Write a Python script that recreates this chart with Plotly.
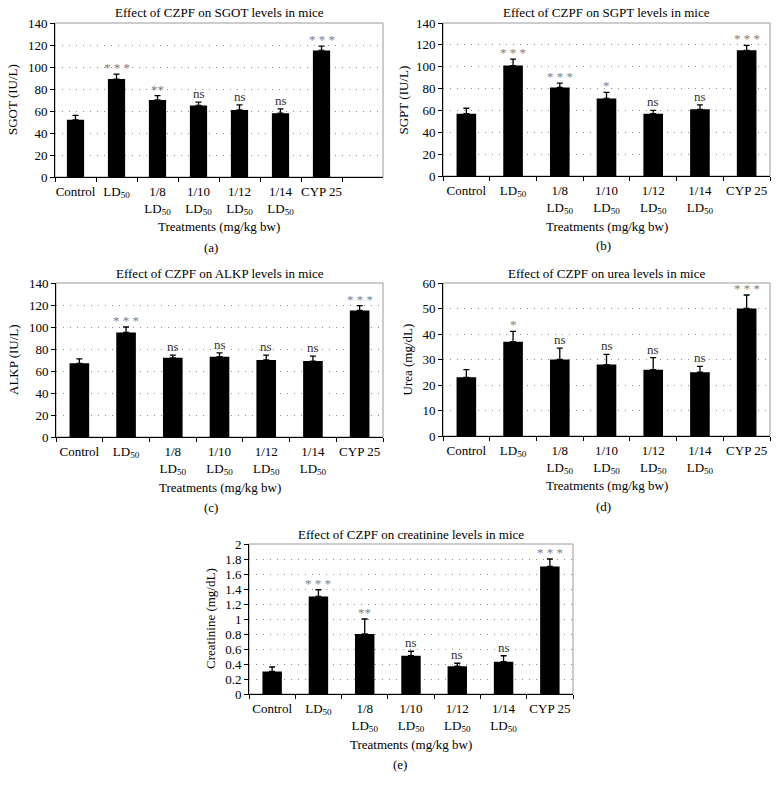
import plotly.graph_objects as go

# ---------------- data ----------------
categories = ["Control", "LD<sub>50</sub>", "1/8<br>LD<sub>50</sub>", "1/10<br>LD<sub>50</sub>",
              "1/12<br>LD<sub>50</sub>", "1/14<br>LD<sub>50</sub>", "CYP 25"]

sgot_vals = [52, 89, 70, 65, 61, 58, 115]
sgot_err = [4, 4.5, 4, 3, 4.5, 4, 4]
sgot_sig = ["", "* * *", "**", "ns", "ns", "ns", "* * *"]

sgpt_vals = [57, 101, 81, 71, 57, 61, 115]
sgpt_err = [5, 6, 4, 5.5, 3, 4, 4.5]
sgpt_sig = ["", "* * *", "* * *", "*", "ns", "ns", "* * *"]

alkp_vals = [67, 95, 72, 73, 70, 69, 115]
alkp_err = [4, 5, 2.5, 3.5, 4.5, 4.5, 4.5]
alkp_sig = ["", "* * *", "ns", "ns", "ns", "ns", "* * *"]

urea_vals = [23, 37, 30, 28, 26, 25, 50]
urea_err = [3, 4, 4.5, 4, 4.7, 2.3, 5.3]
urea_sig = ["", "*", "ns", "ns", "ns", "ns", "* * *"]

creat_vals = [0.3, 1.3, 0.8, 0.51, 0.37, 0.43, 1.7]
creat_err = [0.06, 0.09, 0.2, 0.06, 0.04, 0.08, 0.1]
creat_sig = ["", "* * *", "**", "ns", "ns", "ns", "* * *"]

titles = ["Effect of CZPF on SGOT levels in mice", "Effect of CZPF on SGPT levels in mice",
          "Effect of CZPF on ALKP levels in mice", "Effect of CZPF on urea levels in mice",
          "Effect of CZPF on creatinine levels in mice"]
ytitles = ["SGOT (IU/L)", "SGPT (IU/L)", "ALKP (IU/L)", "Urea (mg/dL)", "Creatinine (mg/dL)"]
xtitle = "Treatments (mg/kg bw)"
panel_labels = ["(a)", "(b)", "(c)", "(d)", "(e)"]

# ---------------- layout geometry (pixels) ----------------
W, H = 778, 794
FONT = "Liberation Serif"

def px_x(p):
    return p / W

def px_y(p):
    return 1 - p / H

panels = [
    dict(vals=sgot_vals, err=sgot_err, sig=sgot_sig, x=(55, 383), y=(23, 177), ymax=140, dtick=20, extra=True),
    dict(vals=sgpt_vals, err=sgpt_err, sig=sgpt_sig, x=(443, 770), y=(23, 176), ymax=140, dtick=20, extra=False),
    dict(vals=alkp_vals, err=alkp_err, sig=alkp_sig, x=(56, 383), y=(283, 437), ymax=140, dtick=20, extra=False),
    dict(vals=urea_vals, err=urea_err, sig=urea_sig, x=(443, 770), y=(283, 436), ymax=60, dtick=10, extra=False),
    dict(vals=creat_vals, err=creat_err, sig=creat_sig, x=(249, 573), y=(544, 694), ymax=2, dtick=0.2, extra=False),
]
ytitle_x = [13, 403, 13, 407, 210]
label_cx = [211, 603, 211, 603, 400]

fig = go.Figure()
annotations = []
shapes = []
layout = dict(
    width=W, height=H, margin=dict(l=0, r=0, t=0, b=0, pad=0, autoexpand=False),
    paper_bgcolor="white", plot_bgcolor="white", showlegend=False,
    font=dict(family=FONT, size=13, color="black"),
)

for i, p in enumerate(panels):
    n = i + 1
    xa = "x" if n == 1 else f"x{n}"
    ya = "y" if n == 1 else f"y{n}"
    xkey = "xaxis" if n == 1 else f"xaxis{n}"
    ykey = "yaxis" if n == 1 else f"yaxis{n}"

    fig.add_trace(go.Bar(
        x=categories, y=p["vals"], xaxis=xa, yaxis=ya,
        marker=dict(color="black", line=dict(width=0)),
        width=0.42,
        error_y=dict(type="data", array=p["err"], arrayminus=[0] * len(p["err"]),
                     symmetric=False, color="black", thickness=1.3, width=3),
        hoverinfo="skip",
    ))

    cats = list(categories) + ([" "] if p["extra"] else [])
    nslots = len(cats)
    layout[xkey] = dict(
        domain=[px_x(p["x"][0]), px_x(p["x"][1])], anchor=ya,
        type="category", categoryorder="array", categoryarray=cats,
        range=[-0.5, nslots - 0.5], tickson="boundaries", tickangle=0,
        ticks="outside", ticklen=4, tickcolor="black", tickwidth=1,
        showline=True, linecolor="black", linewidth=1,
        showgrid=False, zeroline=False, fixedrange=True, automargin=False,
        tickfont=dict(family=FONT, size=13, color="black"),
        ticklabelstandoff=2,
    )
    layout[ykey] = dict(
        domain=[px_y(p["y"][1]), px_y(p["y"][0])], anchor=xa,
        range=[0, p["ymax"]], dtick=p["dtick"], tick0=0,
        ticks="outside", ticklen=4, tickcolor="black", tickwidth=1,
        showline=True, linecolor="black", linewidth=1,
        showgrid=True, gridcolor="#8c8c8c", griddash="1px,6px", gridwidth=1,
        zeroline=False, fixedrange=True, automargin=False,
        tickfont=dict(family=FONT, size=13, color="black"),
    )

    shapes.append(dict(type="rect", xref=f"{xa} domain", yref=f"{ya} domain",
                       x0=0, x1=1, y0=0, y1=1, line=dict(color="#9a9a9a", width=1),
                       layer="below"))

    for c, v, e, s in zip(categories, p["vals"], p["err"], p["sig"]):
        if not s:
            continue
        is_star = "*" in s
        annotations.append(dict(
            x=c, y=v + e, xref=xa, yref=ya, text=s, showarrow=False,
            yanchor="bottom", yshift=-3 if is_star else -1,
            font=dict(family=FONT, size=13, color="#808080" if is_star else "#333333"),
        ))

    cx = (p["x"][0] + p["x"][1]) / 2
    annotations.append(dict(x=px_x(cx), y=px_y(p["y"][0] - 10), xref="paper", yref="paper",
                            text=titles[i], showarrow=False, xanchor="center", yanchor="middle",
                            font=dict(family=FONT, size=13, color="black")))
    cy = (p["y"][0] + p["y"][1]) / 2
    annotations.append(dict(x=px_x(ytitle_x[i]), y=px_y(cy), xref="paper", yref="paper",
                            text=ytitles[i], showarrow=False, textangle=-90,
                            xanchor="center", yanchor="middle",
                            font=dict(family=FONT, size=13, color="black")))
    annotations.append(dict(x=px_x(cx), y=px_y(p["y"][1] + 50), xref="paper", yref="paper",
                            text=xtitle, showarrow=False, xanchor="center", yanchor="middle",
                            font=dict(family=FONT, size=13, color="black")))
    annotations.append(dict(x=px_x(label_cx[i]), y=px_y(p["y"][1] + 70), xref="paper", yref="paper",
                            text=panel_labels[i], showarrow=False, xanchor="center", yanchor="middle",
                            font=dict(family=FONT, size=13, color="black")))

layout["annotations"] = annotations
layout["shapes"] = shapes
fig.update_layout(**layout)
fig.write_html("out.html", config={"displayModeBar": False},
               post_script="document.body.style.margin='0px';document.body.style.overflow='hidden';")
